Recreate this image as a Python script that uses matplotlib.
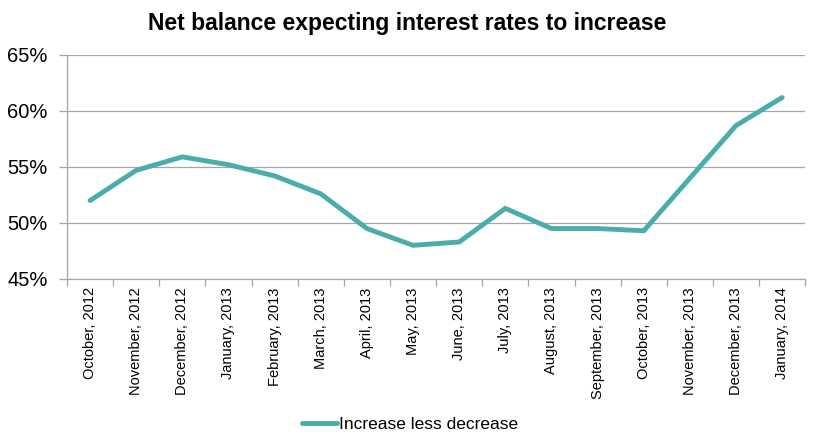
import matplotlib
matplotlib.use("Agg")
import matplotlib.pyplot as plt
from matplotlib.ticker import FixedLocator, FuncFormatter

plt.rcParams['font.family'] = ['Liberation Sans', 'DejaVu Sans']

months = ["October, 2012", "November, 2012", "December, 2012", "January, 2013",
          "February, 2013", "March, 2013", "April, 2013", "May, 2013", "June, 2013",
          "July, 2013", "August, 2013", "September, 2013", "October, 2013",
          "November, 2013", "December, 2013", "January, 2014"]
values = [52.0, 54.7, 55.9, 55.2, 54.2, 52.6, 49.5, 48.0, 48.3,
          51.3, 49.5, 49.5, 49.3, 54.0, 58.7, 61.2]
series_name = "Increase less decrease"
title = "Net balance expecting interest rates to increase"

color = "#4BACAC"
grid_c = "#A6A6A6"

fig = plt.figure(figsize=(8.2, 4.47), dpi=100)
ax = fig.add_axes([0.0817, 0.376, 0.9003, 0.501])

x = list(range(len(months)))
ax.plot(x, values, color=color, lw=3.5, solid_capstyle='round',
        solid_joinstyle='miter', label=series_name, zorder=3)

ax.set_xlim(-0.5, len(months) - 0.5)
ax.set_ylim(45, 65)
ax.set_yticks([45, 50, 55, 60, 65])
ax.yaxis.set_major_formatter(FuncFormatter(lambda v, p: f"{int(v)}%"))
ax.yaxis.grid(True, color=grid_c, lw=0.9)
ax.set_axisbelow(True)

ax.set_xticks(x)
ax.set_xticklabels(months, rotation=90, fontsize=10.5)
ax.tick_params(axis='x', which='major', length=0, pad=6)
ax.xaxis.set_minor_locator(FixedLocator([i - 0.5 for i in range(len(months) + 1)]))
ax.tick_params(axis='x', which='minor', length=5, color=grid_c, width=0.9)
ax.tick_params(axis='y', length=6, color=grid_c, width=0.9, labelsize=14.5, pad=8)

for s in ['top', 'right']:
    ax.spines[s].set_visible(False)
for s in ['left', 'bottom']:
    ax.spines[s].set_color(grid_c)
    ax.spines[s].set_linewidth(0.9)

fig.text(0.497, 0.947, title, ha='center', va='center', fontsize=16.5, fontweight='bold')

fig.legend(loc='center', bbox_to_anchor=(0.5, 0.05), frameon=False, fontsize=12.5,
           handlelength=2.0, handletextpad=0.1)

fig.savefig("out.png", dpi=100, facecolor='white')
